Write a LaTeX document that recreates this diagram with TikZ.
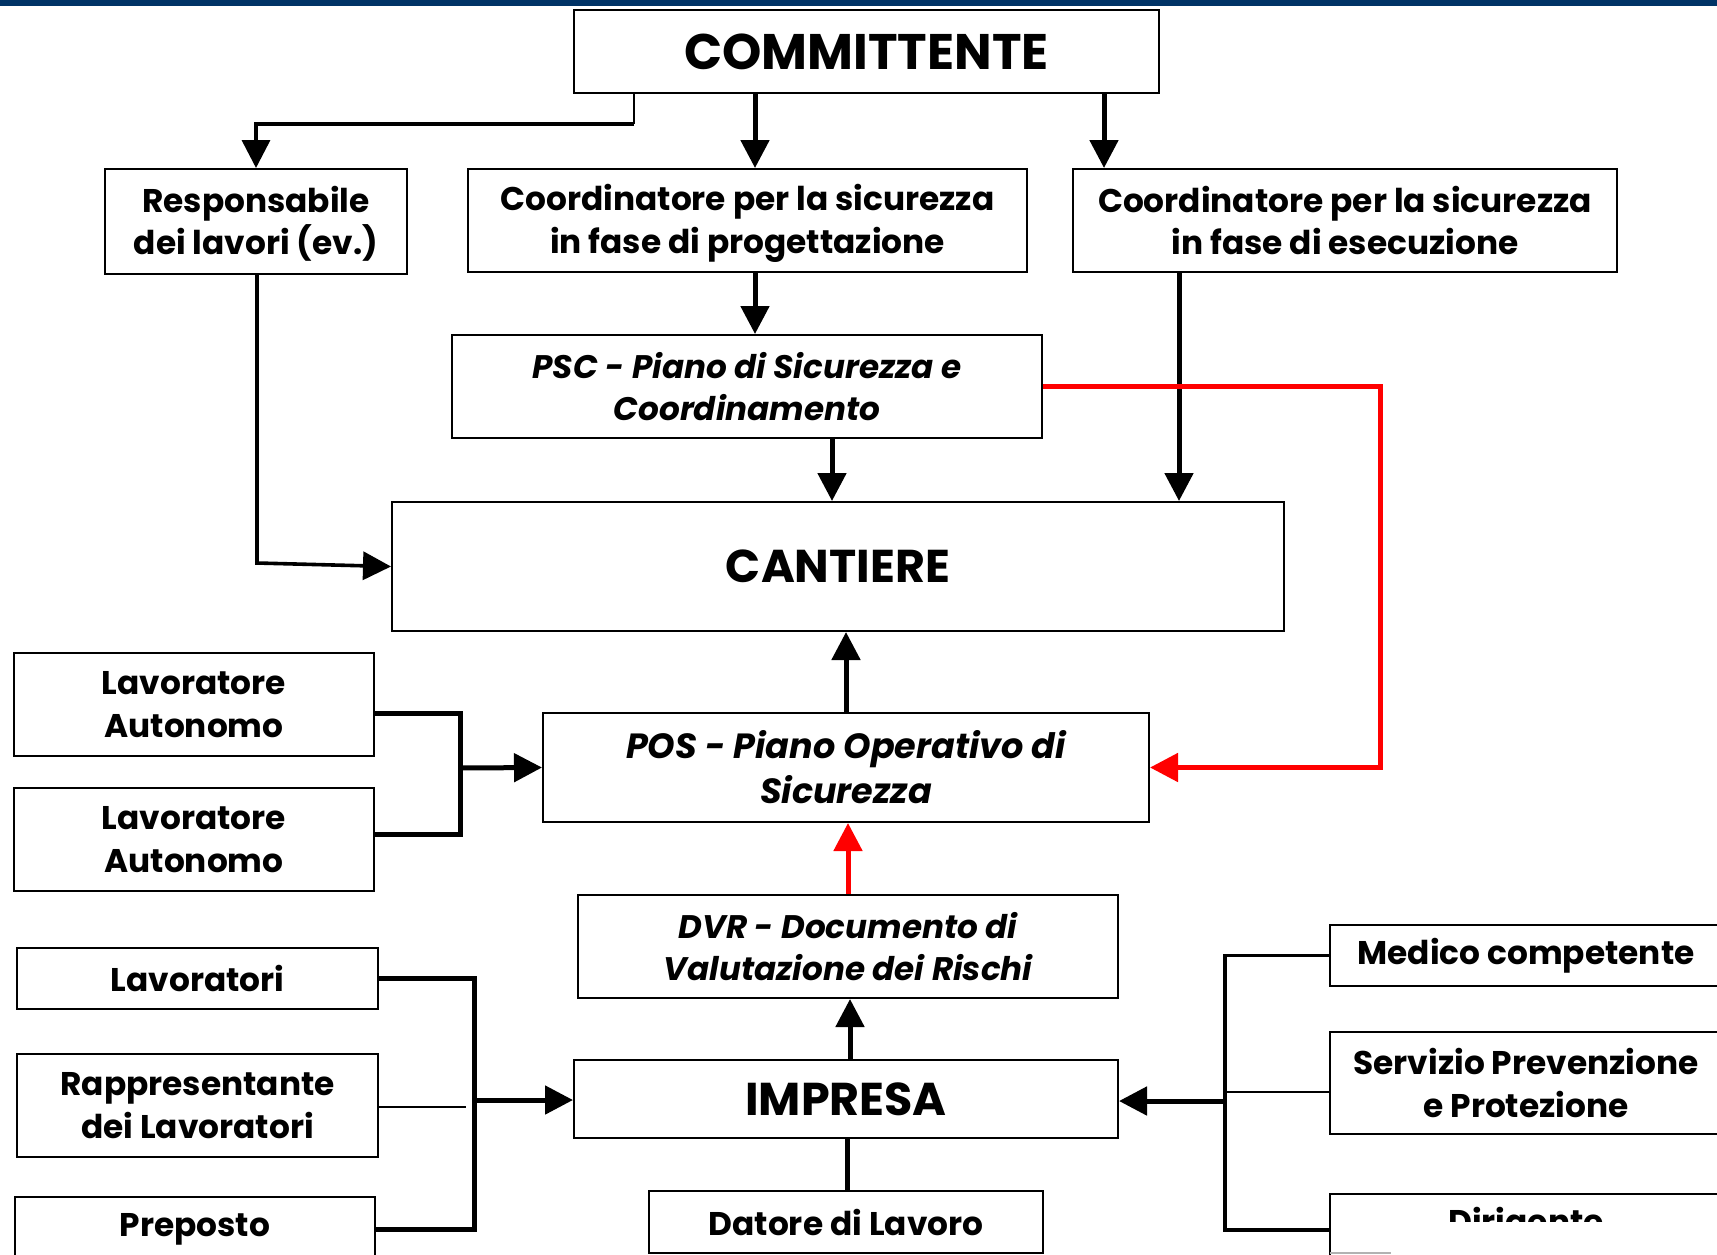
\documentclass[tikz,border=0pt]{standalone}
\usepackage{fontspec}
\setmainfont{Poppins}
\usetikzlibrary{arrows.meta}
\definecolor{topblue}{RGB}{0,51,102}
\definecolor{arrred}{RGB}{255,0,0}
\newcommand{\lowerfirst}[1]{\rule{0pt}{#1}}
\tikzset{
  bx/.style={draw, line width=1pt, align=center, inner sep=0pt, font=\bfseries\fontsize{16.4}{21.3}\selectfont},
  wh/.style 2 args={minimum width=#1*0.5pt, minimum height=#2*0.5pt},
  bigtxt/.style={font=\bfseries\fontsize{25}{30}\selectfont},
  midtxt/.style={font=\bfseries\fontsize{23}{28}\selectfont},
  ittxt/.style={font=\bfseries\itshape\fontsize{16.3}{21.3}\selectfont},
  thk/.style={line width=2.5pt},
  medl/.style={line width=1.8pt},
  thn/.style={line width=1.2pt},
  arr/.style={-{Triangle[length=14pt,width=14pt]}},
}
\begin{document}
\begin{tikzpicture}[x=0.5pt,y=-0.5pt]
\clip (0,0) rectangle (1717,1254);
\fill[white] (0,0) rectangle (1717,1254);
\fill[topblue] (0,0) rectangle (1717,6);
% boxes
\node[bx,wh={585}{83},bigtxt] (com) at (866.5,51.5) {COMMITTENTE};
\node[bx,wh={302}{105}] (resp) at (256,221.5) {\lowerfirst{15.5pt}Responsabile\\dei lavori (ev.)};
\node[bx,wh={559}{103}] (cprog) at (747.5,220.5) {\lowerfirst{16pt}Coordinatore per la sicurezza\\in fase di progettazione};
\node[bx,wh={544}{103}] (cexec) at (1345,220.5) {Coordinatore per la sicurezza\\in fase di esecuzione};
\node[bx,wh={590}{103},ittxt] (psc) at (747,386.5) {PSC - Piano di Sicurezza e\\Coordinamento};
\node[bx,wh={892}{129},midtxt] (cant) at (838,566.5) {CANTIERE};
\node[bx,wh={360}{103}] (la1) at (194,704.5) {Lavoratore\\Autonomo};
\node[bx,wh={360}{103}] (la2) at (194,839.5) {Lavoratore\\Autonomo};
\node[bx,wh={606}{109},font=\bfseries\itshape\fontsize{17.5}{22.5}\selectfont] (pos) at (846,767.5) {POS - Piano Operativo di\\Sicurezza};
\node[bx,wh={540}{103},ittxt] (dvr) at (848,946.5) {DVR - Documento di\\Valutazione dei Rischi};
\node[bx,wh={361}{61}] (lavo) at (197.5,978.5) {Lavoratori};
\node[bx,wh={361}{103}] (rapp) at (197.5,1105.5) {Rappresentante\\dei Lavoratori};
\node[bx,wh={360}{64}] (prep) at (195,1229) {Preposto};
\node[bx,wh={544}{78},midtxt] (imp) at (846,1099) {IMPRESA};
\node[bx,wh={394}{62}] (dat) at (846,1222) {Datore di Lavoro};
\node[bx,wh={392}{61}] (med) at (1526,955.5) {Medico competente};
\node[bx,wh={392}{102}] (serv) at (1526,1083) {Servizio Prevenzione\\e Protezione};
\node[bx,wh={392}{62}] (dir) at (1526,1225) {Dirigente};
\fill[white] (1332,1222) rectangle (1720,1251.5);
\draw[gray!60,line width=0.8pt] (1330,1253) -- (1391,1253);
% connectors from COMMITTENTE
\coordinate (j1) at (634,124);
\draw[thn] (634,0 |- com.south) -- (j1);
\draw[medl,arr] (j1) -| (resp.north);
\draw[thk,arr] (755,0 |- com.south) -- (755,0 |- cprog.north);
\draw[thk,arr] (1104,0 |- com.south) -- (1104,0 |- cexec.north);
\draw[thk,arr] (755,0 |- cprog.south) -- (755,0 |- psc.north);
\draw[thk,arr] (832,0 |- psc.south) -- (832,0 |- cant.north);
\draw[thk,arr] (1179,0 |- cexec.south) -- (1179,0 |- cant.north);
\draw[medl,arr] (257,0 |- resp.south) -- (257,563) -- (cant.west);
\draw[arrred,thk,arr] (psc.east) -- (1380,0 |- psc.east) |- (pos.east);
\draw[thk,arr] (846,0 |- pos.north) -- (846,0 |- cant.south);
\draw[arrred,thk,arr] (848,0 |- dvr.north) -- (848,0 |- pos.south);
\draw[thk,arr] (850,0 |- imp.north) -- (850,0 |- dvr.south);
% lavoratori autonomi
\draw[thk] (la1.east |- 0,713) -- (460,713) -- (460,834) -- (la2.east |- 0,834);
\draw[thk,arr] (460,768) -- (pos.west);
% left group
\draw[thk] (lavo.east) -| (474,0 |- prep.east) -- (prep.east);
\draw[thn] (rapp.east |- 0,1107) -- (466,1107);
\draw[thk,arr] (474,1100) -- (imp.west |- 0,1100);
% right group
\draw[medl] (med.west) -| (1225,1230) -- (dir.west |- 0,1230);
\draw[thn] (serv.west |- 0,1092) -- (1225,1092);
\draw[thk,arr] (1225,1101) -- (imp.east |- 0,1101);
% datore
\draw[thk] (847,0 |- imp.south) -- (847,0 |- dat.north);
\end{tikzpicture}
\end{document}
